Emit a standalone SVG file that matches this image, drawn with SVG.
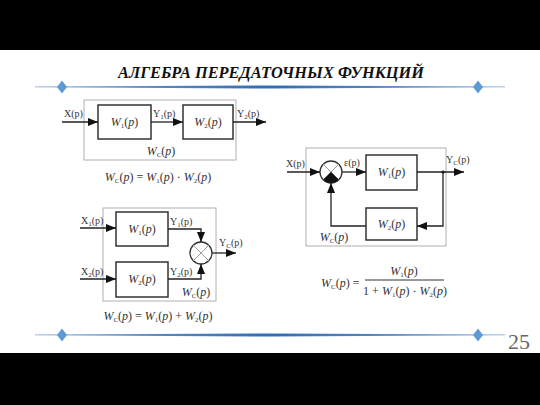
<svg xmlns="http://www.w3.org/2000/svg" width="540" height="405" viewBox="0 0 540 405">
<defs>
<marker id="arr" viewBox="0 0 10 8" refX="10" refY="4" markerWidth="10" markerHeight="8" markerUnits="userSpaceOnUse" orient="auto">
<path d="M0,0 L10,4 L0,8 Z" fill="#111"/>
</marker>
<linearGradient id="lg" x1="0" x2="1" y1="0" y2="0">
<stop offset="0" stop-color="#7fa8d8"/>
<stop offset="0.5" stop-color="#2f6db8"/>
<stop offset="1" stop-color="#7fa8d8"/>
</linearGradient>
</defs>
<style>
.frame{fill:none;stroke:#b0b0b0;stroke-width:1}
.blk{fill:#fff;stroke:#333;stroke-width:1.5}
.ln{fill:none;stroke:#222;stroke-width:1.3}
.cross{stroke:#999;stroke-width:1}
.lbl{font-family:"Liberation Serif","Times New Roman",serif;font-size:10px;fill:#333}
.m{font-family:"Liberation Serif","Times New Roman",serif;font-size:12px;fill:#333}
.ttl{font-family:"Liberation Serif","Times New Roman",serif;font-weight:bold;font-style:italic;font-size:16px;fill:#111}
.num{font-family:"Liberation Serif","Times New Roman",serif;font-size:22px;fill:#666}
.i{font-style:italic}
.s{font-size:7px}
.dia{fill:#5b9bd5}
</style>
<rect x="0" y="0" width="540" height="405" fill="#fff"/>
<rect x="0" y="0" width="540" height="50" fill="#000"/>
<rect x="0" y="353" width="540" height="52" fill="#000"/>

<g id="title">
<text class="ttl" x="271" y="78" text-anchor="middle" textLength="306" lengthAdjust="spacingAndGlyphs">АЛГЕБРА ПЕРЕДАТОЧНЫХ ФУНКЦИЙ</text>
</g>
<g id="decor-top">
<path d="M35,86.6 L270,85.4 L505,86.6 L505,87.2 L270,88.6 L35,87.2 Z" fill="url(#lg)"/>
<path class="dia" d="M62,80.5 L67,87 L62,93.5 L57,87 Z"/>
<path class="dia" d="M478,80.5 L483,87 L478,93.5 L473,87 Z"/>
</g>
<g id="decor-bottom">
<path d="M35,334.6 L270,333.4 L505,334.6 L505,335.2 L270,336.6 L35,335.2 Z" fill="url(#lg)"/>
<path class="dia" d="M62,328.5 L67,335 L62,341.5 L57,335 Z"/>
<path class="dia" d="M478,328.5 L483,335 L478,341.5 L473,335 Z"/>
<text class="num" x="519" y="349" text-anchor="middle">25</text>
</g>

<!-- Diagram 1: series -->
<g id="series-frame">
<rect class="frame" x="84" y="100" width="152" height="60"/>
<text class="m" x="161" y="155" text-anchor="middle"><tspan class="i">W</tspan><tspan class="s" dy="2">C</tspan><tspan dy="-2">(</tspan><tspan class="i">p</tspan>)</text>
</g>
<g id="series-W1">
<rect class="blk" x="98" y="105" width="53" height="34"/>
<text class="m" x="124.5" y="126" text-anchor="middle"><tspan class="i">W</tspan><tspan class="s" dy="2">1</tspan><tspan dy="-2">(</tspan><tspan class="i">p</tspan>)</text>
</g>
<g id="series-W2">
<rect class="blk" x="183" y="105" width="50" height="34"/>
<text class="m" x="208" y="126" text-anchor="middle"><tspan class="i">W</tspan><tspan class="s" dy="2">2</tspan><tspan dy="-2">(</tspan><tspan class="i">p</tspan>)</text>
</g>
<g id="series-connectors">
<line class="ln" x1="62" y1="122" x2="98" y2="122" marker-end="url(#arr)"/>
<line class="ln" x1="151" y1="122" x2="183" y2="122" marker-end="url(#arr)"/>
<line class="ln" x1="233" y1="122" x2="266" y2="122" marker-end="url(#arr)"/>
<text class="lbl" x="64" y="117">X(p)</text>
<text class="lbl" x="153" y="117">Y<tspan class="s" dy="2">1</tspan><tspan dy="-2">(p)</tspan></text>
<text class="lbl" x="237" y="117">Y<tspan class="s" dy="2">2</tspan><tspan dy="-2">(p)</tspan></text>
</g>
<g id="series-formula">
<text class="m" x="158" y="181" text-anchor="middle"><tspan class="i">W</tspan><tspan class="s" dy="2">C</tspan><tspan dy="-2">(</tspan><tspan class="i">p</tspan>) = <tspan class="i">W</tspan><tspan class="s" dy="2">1</tspan><tspan dy="-2">(</tspan><tspan class="i">p</tspan>) · <tspan class="i">W</tspan><tspan class="s" dy="2">2</tspan><tspan dy="-2">(</tspan><tspan class="i">p</tspan>)</text>
</g>

<!-- Diagram 2: parallel -->
<g id="parallel-frame">
<rect class="frame" x="103" y="208" width="113" height="93"/>
<text class="m" x="196" y="296" text-anchor="middle"><tspan class="i">W</tspan><tspan class="s" dy="2">C</tspan><tspan dy="-2">(</tspan><tspan class="i">p</tspan>)</text>
</g>
<g id="parallel-W1">
<rect class="blk" x="116" y="212" width="52" height="34"/>
<text class="m" x="142" y="233" text-anchor="middle"><tspan class="i">W</tspan><tspan class="s" dy="2">1</tspan><tspan dy="-2">(</tspan><tspan class="i">p</tspan>)</text>
</g>
<g id="parallel-W2">
<rect class="blk" x="116" y="262" width="52" height="35"/>
<text class="m" x="142" y="283" text-anchor="middle"><tspan class="i">W</tspan><tspan class="s" dy="2">2</tspan><tspan dy="-2">(</tspan><tspan class="i">p</tspan>)</text>
</g>
<g id="parallel-sum">
<circle cx="201" cy="253" r="11" fill="#fff" stroke="#333" stroke-width="1.3"/>
<line class="cross" x1="193.2" y1="245.2" x2="208.8" y2="260.8"/>
<line class="cross" x1="208.8" y1="245.2" x2="193.2" y2="260.8"/>
</g>
<g id="parallel-connectors">
<line class="ln" x1="80" y1="228" x2="116" y2="228" marker-end="url(#arr)"/>
<line class="ln" x1="80" y1="279" x2="116" y2="279" marker-end="url(#arr)"/>
<polyline class="ln" points="168,229 201,229 201,242" marker-end="url(#arr)"/>
<polyline class="ln" points="168,279 201,279 201,264" marker-end="url(#arr)"/>
<line class="ln" x1="212" y1="253" x2="236" y2="253" marker-end="url(#arr)"/>
<text class="lbl" x="81" y="224">X<tspan class="s" dy="2">1</tspan><tspan dy="-2">(p)</tspan></text>
<text class="lbl" x="81" y="275">X<tspan class="s" dy="2">2</tspan><tspan dy="-2">(p)</tspan></text>
<text class="lbl" x="170" y="225">Y<tspan class="s" dy="2">1</tspan><tspan dy="-2">(p)</tspan></text>
<text class="lbl" x="170" y="275">Y<tspan class="s" dy="2">2</tspan><tspan dy="-2">(p)</tspan></text>
<text class="lbl" x="219" y="246">Y<tspan class="s" dy="2">C</tspan><tspan dy="-2">(p)</tspan></text>
</g>
<g id="parallel-formula">
<text class="m" x="158" y="320" text-anchor="middle"><tspan class="i">W</tspan><tspan class="s" dy="2">C</tspan><tspan dy="-2">(</tspan><tspan class="i">p</tspan>) = <tspan class="i">W</tspan><tspan class="s" dy="2">1</tspan><tspan dy="-2">(</tspan><tspan class="i">p</tspan>) + <tspan class="i">W</tspan><tspan class="s" dy="2">2</tspan><tspan dy="-2">(</tspan><tspan class="i">p</tspan>)</text>
</g>

<!-- Diagram 3: feedback -->
<g id="feedback-frame">
<rect class="frame" x="306" y="148" width="140" height="98"/>
<text class="m" x="334" y="241" text-anchor="middle"><tspan class="i">W</tspan><tspan class="s" dy="2">C</tspan><tspan dy="-2">(</tspan><tspan class="i">p</tspan>)</text>
</g>
<g id="feedback-sum">
<circle cx="331" cy="172" r="11" fill="#fff" stroke="#333" stroke-width="1.3"/>
<line class="cross" x1="323.2" y1="164.2" x2="338.8" y2="179.8"/>
<line class="cross" x1="338.8" y1="164.2" x2="323.2" y2="179.8"/>
<path d="M331,172 L338.8,179.8 A11,11 0 0 1 323.2,179.8 Z" fill="#111"/>
</g>
<g id="feedback-W1">
<rect class="blk" x="366" y="155" width="51" height="35"/>
<text class="m" x="391.5" y="176" text-anchor="middle"><tspan class="i">W</tspan><tspan class="s" dy="2">1</tspan><tspan dy="-2">(</tspan><tspan class="i">p</tspan>)</text>
</g>
<g id="feedback-W2">
<rect class="blk" x="366" y="208" width="51" height="32"/>
<text class="m" x="391.5" y="228" text-anchor="middle"><tspan class="i">W</tspan><tspan class="s" dy="2">2</tspan><tspan dy="-2">(</tspan><tspan class="i">p</tspan>)</text>
</g>
<g id="feedback-connectors">
<line class="ln" x1="287" y1="172" x2="320" y2="172" marker-end="url(#arr)"/>
<line class="ln" x1="342" y1="172" x2="366" y2="172" marker-end="url(#arr)"/>
<line class="ln" x1="417" y1="172" x2="464" y2="172" marker-end="url(#arr)"/>
<circle cx="443" cy="172" r="1.6" fill="#111"/>
<polyline class="ln" points="443,172 443,226 417,226" marker-end="url(#arr)"/>
<polyline class="ln" points="366,226 331,226 331,183" marker-end="url(#arr)"/>
<text class="lbl" x="286" y="167">X(p)</text>
<text class="lbl" x="344" y="166">ε(p)</text>
<text class="lbl" x="446" y="163">Y<tspan class="s" dy="2">C</tspan><tspan dy="-2">(p)</tspan></text>
</g>
<g id="feedback-formula">
<text class="m" x="321" y="287"><tspan class="i">W</tspan><tspan class="s" dy="2">C</tspan><tspan dy="-2">(</tspan><tspan class="i">p</tspan>) =</text>
<text class="m" x="404" y="275" text-anchor="middle"><tspan class="i">W</tspan><tspan class="s" dy="2">1</tspan><tspan dy="-2">(</tspan><tspan class="i">p</tspan>)</text>
<line x1="365" y1="280" x2="444" y2="280" stroke="#333" stroke-width="1"/>
<text class="m" x="405" y="295" text-anchor="middle">1 + <tspan class="i">W</tspan><tspan class="s" dy="2">1</tspan><tspan dy="-2">(</tspan><tspan class="i">p</tspan>) · <tspan class="i">W</tspan><tspan class="s" dy="2">2</tspan><tspan dy="-2">(</tspan><tspan class="i">p</tspan>)</text>
</g>
</svg>
